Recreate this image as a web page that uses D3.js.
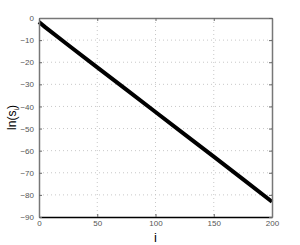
<!DOCTYPE html>
<html>
<head>
<meta charset="utf-8">
<script src="https://cdn.jsdelivr.net/npm/d3@7"></script>
<style>
body { margin: 0; background: #fff; }
svg { display: block; font-family: "Liberation Sans", Arial, sans-serif; }
</style>
</head>
<body>
<div class="canvas"></div>
<script>
// values
const iValues = [0, 5, 25, 50, 75, 100, 125, 150, 175, 200]
const lnS = [-1.8, -4.0, -12.2, -22.3, -32.4, -42.5, -52.6, -62.7, -72.9, -83.1]
const xTicks = [0, 50, 100, 150, 200]
const yTicks = [0, -10, -20, -30, -40, -50, -60, -70, -80, -90]

const width = 300
const height = 245
const margin = { top: 18, right: 28, bottom: 28, left: 39 }
const graphWidth = width - margin.left - margin.right
const graphHeight = height - margin.top - margin.bottom

const svg = d3.select(".canvas")
    .append("svg")
    .attr("width", width)
    .attr("height", height)

const graph = svg.append("g")
    .attr("transform", `translate(${margin.left}, ${margin.top})`)

const scaleX = d3.scaleLinear().domain([0, 200]).range([0, graphWidth])
const scaleY = d3.scaleLinear().domain([-90, 0]).range([graphHeight, 0])

// dotted grid
graph.selectAll(".gx")
    .data(xTicks.slice(1, -1))
    .enter().append("line")
    .attr("x1", d => scaleX(d)).attr("x2", d => scaleX(d))
    .attr("y1", 0).attr("y2", graphHeight)
    .attr("stroke", "#c8c8c8").attr("stroke-width", 1)
    .attr("stroke-dasharray", "1,3")
graph.selectAll(".gy")
    .data(yTicks.slice(1, -1))
    .enter().append("line")
    .attr("y1", d => scaleY(d)).attr("y2", d => scaleY(d))
    .attr("x1", 0).attr("x2", graphWidth)
    .attr("stroke", "#c8c8c8").attr("stroke-width", 1)
    .attr("stroke-dasharray", "1,3")

// data line
const line = d3.line()
    .x((d, k) => scaleX(iValues[k]))
    .y(d => scaleY(d))
graph.append("path")
    .datum(lnS)
    .attr("d", line)
    .attr("fill", "none")
    .attr("stroke", "#000")
    .attr("stroke-width", 4)

// axes with inward ticks
const xAxis = d3.axisBottom(scaleX).tickValues(xTicks).tickSizeInner(-3).tickSizeOuter(0).tickPadding(3)
const yAxis = d3.axisLeft(scaleY).tickValues(yTicks).tickSizeInner(-3).tickSizeOuter(0).tickPadding(5)
  .tickFormat(d => d === 0 ? "0" : "\u2212" + Math.abs(d))
const xTop = d3.axisTop(scaleX).tickValues(xTicks).tickSizeInner(-3).tickSizeOuter(0).tickFormat("")
const yRight = d3.axisRight(scaleY).tickValues(yTicks).tickSizeInner(-3).tickSizeOuter(0).tickFormat("")

const xAxisGroup = graph.append("g").attr("transform", `translate(0, ${graphHeight})`).call(xAxis)
const yAxisGroup = graph.append("g").call(yAxis)
graph.append("g").call(xTop)
graph.append("g").attr("transform", `translate(${graphWidth}, 0)`).call(yRight)

graph.selectAll(".domain").attr("stroke", "#777").attr("stroke-width", 1.5)
graph.selectAll(".tick line").attr("stroke", "#666")
xAxisGroup.select(".domain").attr("stroke", "#000")
graph.selectAll(".tick text").attr("fill", "#555").style("font-size", "8px")

svg.append("text")
    .attr("x", margin.left + scaleX(100))
    .attr("y", 242)
    .attr("text-anchor", "middle")
    .style("font-size", "13px")
    .text("i")

const yl = svg.append("text")
    .attr("transform", `translate(16, ${margin.top + graphHeight / 2}) rotate(-90)`)
    .attr("text-anchor", "middle")
    .style("font-size", "12px")
yl.append("tspan").text("ln(s")
yl.append("tspan").attr("dy", 3).style("font-size", "7px").text("i")
yl.append("tspan").attr("dy", -3).text(")")
</script>
</body>
</html>
